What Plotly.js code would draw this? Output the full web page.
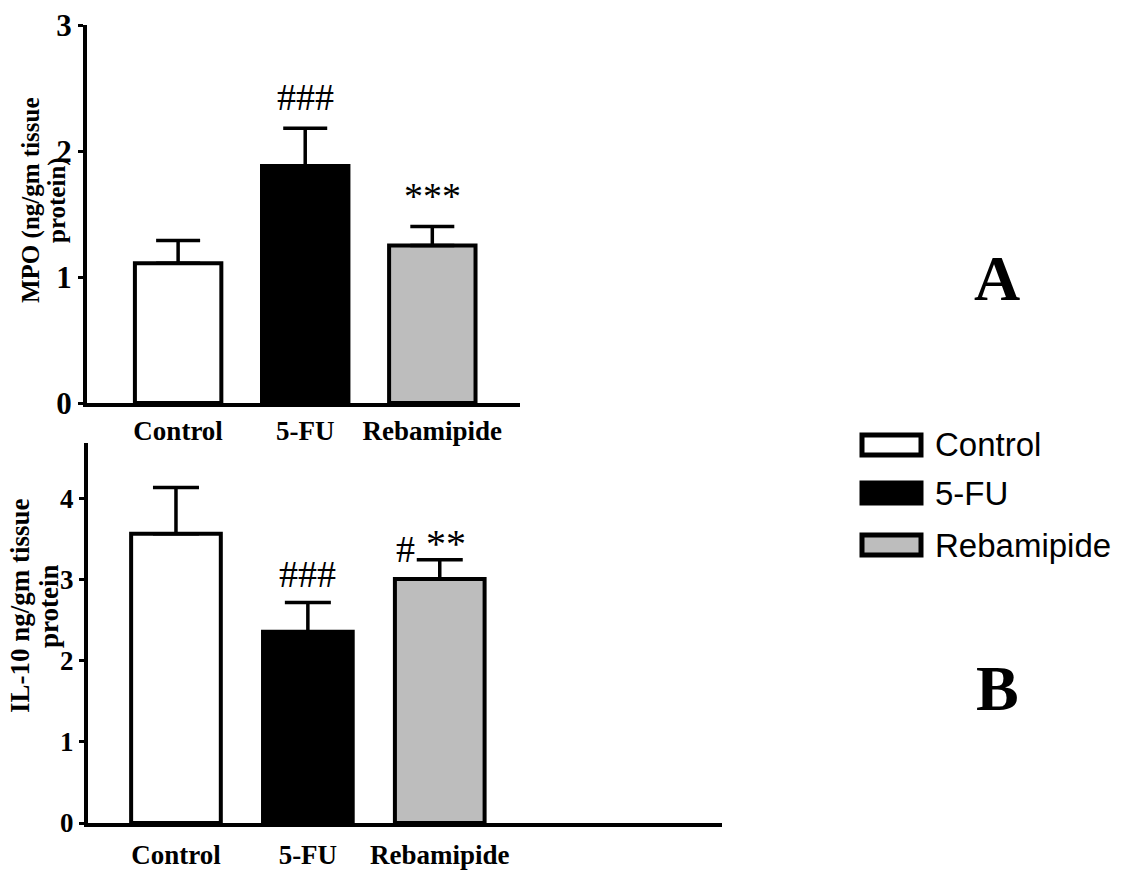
<!DOCTYPE html>
<html>
<head>
<meta charset="utf-8">
<script src="https://cdn.plot.ly/plotly-3.0.1.min.js"></script>
<style>html,body{margin:0;padding:0;background:#fff;}#chart{width:1123px;height:871px;}</style>
</head>
<body>
<div id="chart"></div>
<script>
// ---- data ----
const categories = ['Control', '5-FU', 'Rebamipide'];
const mpoMean = [1.11, 1.88, 1.25];
const mpoErr = [0.18, 0.30, 0.15];
const mpoMarks = ['', '###', '***'];
const il10Mean = [3.57, 2.36, 3.01];
const il10Err = [0.57, 0.36, 0.24];
const il10Hash = ['', '###', '#'];
const il10Stars = ['', '', '**'];
const fills = ['#ffffff', '#000000', '#bdbdbd'];
const mpoTicks = [0, 1, 2, 3];
const il10Ticks = [0, 1, 2, 3, 4];
const mpoTitleLines = ['MPO (ng/gm tissue', 'protein)'];
const il10TitleLines = ['IL-10 ng/gm tissue', 'protein'];
const panelLetters = ['A', 'B'];

// ---- layout helpers ----
const W = 1123, H = 871;
const px = v => v / W;
const py = v => (H - v) / H;
const SERIF = '"Times New Roman", "Liberation Serif", serif';
const SANS = 'Arial, "Liberation Sans", sans-serif';
const zeros = categories.map(() => 0);

const barCommon = {
  type: 'bar',
  x: categories,
  width: 0.68,
  marker: {color: fills, line: {color: '#000', width: 4}},
  showlegend: false,
  hoverinfo: 'x+y'
};

const traces = [
  Object.assign({}, barCommon, {
    y: mpoMean, xaxis: 'x', yaxis: 'y',
    error_y: {type: 'data', symmetric: false, array: mpoErr, arrayminus: zeros,
              color: '#000', thickness: 3.5, width: 22}
  }),
  Object.assign({}, barCommon, {
    y: il10Mean, xaxis: 'x2', yaxis: 'y2',
    error_y: {type: 'data', symmetric: false, array: il10Err, arrayminus: zeros,
              color: '#000', thickness: 3.5, width: 23}
  })
];

const yAxisCommon = {
  showline: true, linecolor: '#000', linewidth: 4,
  ticks: 'outside', ticklen: 5, tickwidth: 3, tickcolor: '#000',
  showgrid: false, zeroline: false, fixedrange: true,
  tickmode: 'array'
};
const xAxisCommon = {
  showline: true, linecolor: '#000', linewidth: 4,
  ticks: '', showgrid: false, zeroline: false, fixedrange: true,
  type: 'category'
};

const annotations = [];
categories.forEach((c, i) => {
  if (mpoMarks[i]) annotations.push({
    xref: 'x', yref: 'y', x: c, y: mpoMean[i] + mpoErr[i],
    text: mpoMarks[i], showarrow: false, yanchor: 'bottom', yshift: 8,
    font: {family: SERIF, size: 38, color: '#000'}
  });
  if (il10Hash[i]) annotations.push({
    xref: 'x2', yref: 'y2', x: c, y: il10Mean[i] + il10Err[i],
    text: il10Hash[i], showarrow: false, yanchor: 'bottom',
    yshift: il10Stars[i] ? -12 : 6,
    xshift: il10Stars[i] ? -34 : 0,
    font: {family: SERIF, size: 38, color: '#000'}
  });
  if (il10Stars[i]) annotations.push({
    xref: 'x2', yref: 'y2', x: c, y: il10Mean[i] + il10Err[i],
    text: il10Stars[i], showarrow: false, yanchor: 'bottom', yshift: -8,
    xshift: 6,
    font: {family: SERIF, size: 40, color: '#000'}
  });
});

// y-axis titles (rotated, one annotation per line for tight line spacing)
const titleSpecs = [
  {lines: mpoTitleLines, xs: [31, 57], yc: 200, size: 25},
  {lines: il10TitleLines, xs: [20, 49], yc: 606, size: 27}
];
titleSpecs.forEach(t => {
  t.lines.forEach((ln, k) => {
    annotations.push({xref: 'paper', yref: 'paper', x: px(t.xs[k]), y: py(t.yc),
      xanchor: 'center', yanchor: 'middle', textangle: -90, text: ln, showarrow: false,
      font: {family: SERIF, size: t.size, color: '#000', weight: 'bold'}});
  });
});

// panel letters
annotations.push({xref: 'paper', yref: 'paper', x: px(997), y: py(278), xanchor: 'center', yanchor: 'middle',
  text: panelLetters[0], showarrow: false, font: {family: SERIF, size: 64, color: '#000', weight: 'bold'}});
annotations.push({xref: 'paper', yref: 'paper', x: px(997), y: py(688), xanchor: 'center', yanchor: 'middle',
  text: panelLetters[1], showarrow: false, font: {family: SERIF, size: 64, color: '#000', weight: 'bold'}});

// legend (boxes + labels built from categories and fills)
const shapes = [];
const legendTop = [433, 481, 533];
categories.forEach((c, i) => {
  shapes.push({type: 'rect', xref: 'paper', yref: 'paper',
    x0: px(862), x1: px(921), y0: py(legendTop[i] + 22), y1: py(legendTop[i] + 2),
    fillcolor: fills[i], line: {color: '#000', width: 5}});
  annotations.push({xref: 'paper', yref: 'paper', x: px(933), y: py(legendTop[i] + 12),
    xanchor: 'left', yanchor: 'middle', text: c, showarrow: false,
    font: {family: SANS, size: 33, color: '#000'}});
});

const layout = {
  width: W, height: H,
  margin: {l: 0, r: 0, t: 0, b: 0},
  paper_bgcolor: '#fff', plot_bgcolor: '#fff',
  showlegend: false,
  xaxis: Object.assign({}, xAxisCommon, {
    domain: [px(87), px(520)], anchor: 'y', range: [-0.717, 2.69],
    ticklabelstandoff: 1,
    tickfont: {family: SERIF, size: 27, color: '#000', weight: 'bold'}
  }),
  yaxis: Object.assign({}, yAxisCommon, {
    domain: [py(403), py(25)], anchor: 'x', range: [0, 3],
    tickvals: mpoTicks,
    tickfont: {family: SERIF, size: 31, color: '#000', weight: 'bold'}
  }),
  xaxis2: Object.assign({}, xAxisCommon, {
    domain: [px(88), px(722)], anchor: 'y2', range: [-0.667, 4.14],
    ticklabelstandoff: 5,
    tickfont: {family: SERIF, size: 27, color: '#000', weight: 'bold'}
  }),
  yaxis2: Object.assign({}, yAxisCommon, {
    domain: [py(823), py(443)], anchor: 'x2', range: [0, 4.69],
    tickvals: il10Ticks,
    tickfont: {family: SERIF, size: 27, color: '#000', weight: 'bold'}
  }),
  annotations: annotations,
  shapes: shapes
};

Plotly.newPlot('chart', traces, layout, {displayModeBar: false, staticPlot: true});
</script>
</body>
</html>
